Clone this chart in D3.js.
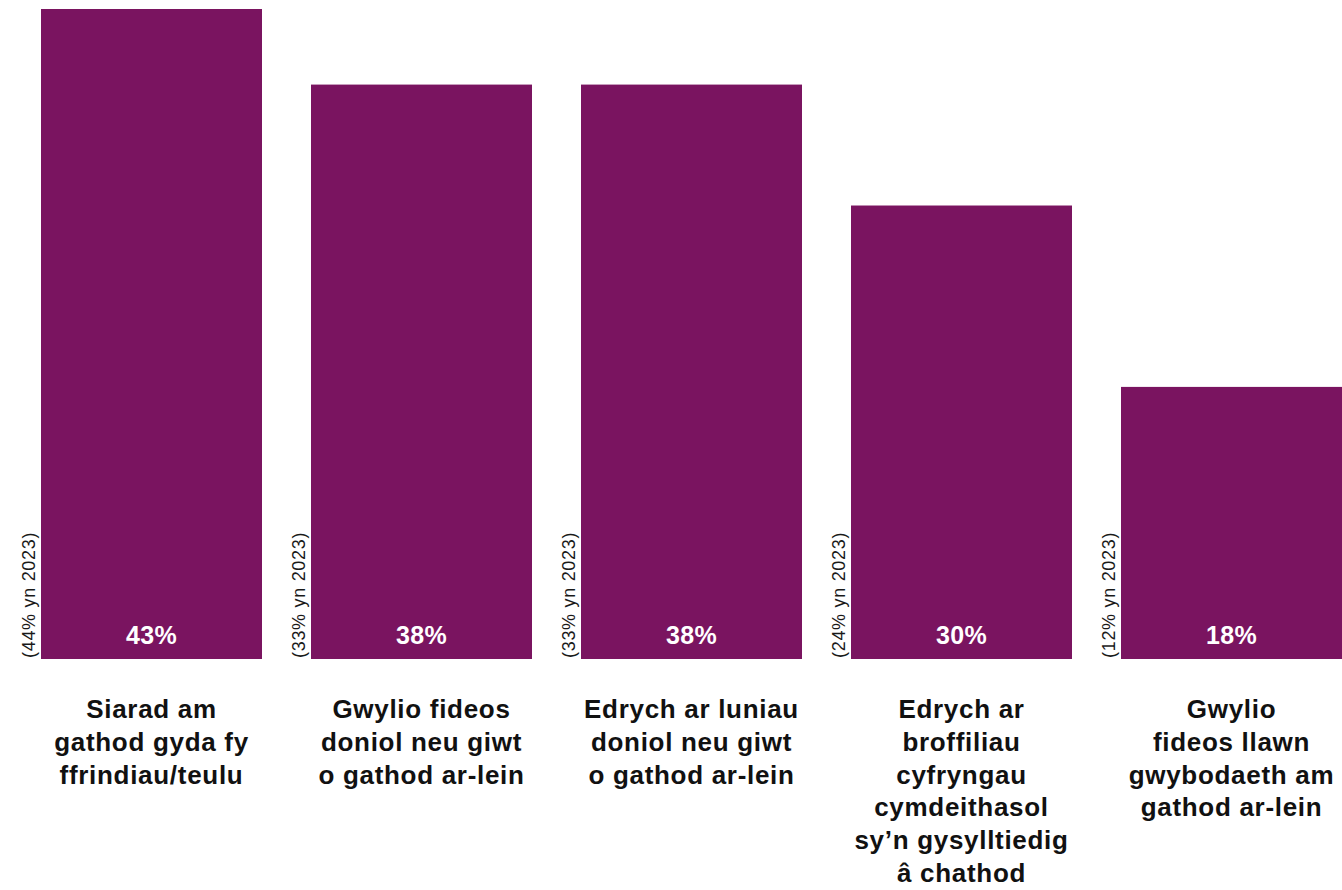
<!DOCTYPE html>
<html>
<head>
<meta charset="utf-8">
<script src="https://cdn.jsdelivr.net/npm/d3@7"></script>
<style>
  html, body { margin: 0; padding: 0; background: #ffffff; }
  svg { display: block; }
</style>
</head>
<body>
<svg id="chart" width="1342" height="890"></svg>
<script>
const categories = [
  ["Siarad am", "gathod gyda fy", "ffrindiau/teulu"],
  ["Gwylio fideos", "doniol neu giwt", "o gathod ar-lein"],
  ["Edrych ar luniau", "doniol neu giwt", "o gathod ar-lein"],
  ["Edrych ar", "broffiliau", "cyfryngau", "cymdeithasol", "sy\u2019n gysylltiedig", "\u00e2 chathod"],
  ["Gwylio", "fideos llawn", "gwybodaeth am", "gathod ar-lein"]
];
const values2024 = [43, 38, 38, 30, 18];
const values2023 = [44, 33, 33, 24, 12];
const valueLabels = ["43%", "38%", "38%", "30%", "18%"];
const prevLabels = ["(44% yn 2023)", "(33% yn 2023)", "(33% yn 2023)", "(24% yn 2023)", "(12% yn 2023)"];

const barColor = "#7a1460";
const svg = d3.select("#chart");
const ids = d3.range(categories.length);

const x = d3.scaleBand().domain(ids).range([41, 1342]).paddingInner(49 / 270).paddingOuter(0);
const y = d3.scaleLinear().domain([0, 43]).range([659, 9]);

const g = svg.append("g");

g.selectAll("rect.bar").data(ids).join("rect")
  .attr("class", "bar")
  .attr("x", i => x(i))
  .attr("y", i => y(values2024[i]))
  .attr("width", x.bandwidth())
  .attr("height", i => y(0) - y(values2024[i]))
  .attr("fill", barColor);

g.selectAll("text.val").data(ids).join("text")
  .attr("class", "val")
  .attr("x", i => x(i) + x.bandwidth() / 2)
  .attr("y", y(0) - 15.5)
  .attr("text-anchor", "middle")
  .attr("fill", "#ffffff")
  .style("font-family", "'Liberation Sans', Arial, sans-serif")
  .style("font-weight", "700")
  .style("font-size", "25px")
  .style("letter-spacing", "0.3px")
  .text(i => valueLabels[i]);

g.selectAll("text.prev").data(ids).join("text")
  .attr("class", "prev")
  .attr("transform", i => `translate(${x(i) - 6},${y(0) - 1}) rotate(-90)`)
  .attr("text-anchor", "start")
  .attr("fill", "#1a1a1a")
  .style("font-family", "'Liberation Sans', Arial, sans-serif")
  .style("font-size", "18px")
  .style("letter-spacing", "0.7px")
  .text(i => prevLabels[i]);

const cat = g.selectAll("text.cat").data(ids).join("text")
  .attr("class", "cat")
  .attr("text-anchor", "middle")
  .attr("fill", "#111111")
  .style("font-family", "'Liberation Sans', Arial, sans-serif")
  .style("font-weight", "700")
  .style("font-size", "26px")
  .style("letter-spacing", "0.7px");

cat.selectAll("tspan").data(i => categories[i].map(t => ({ t, i }))).join("tspan")
  .attr("x", d => x(d.i) + x.bandwidth() / 2)
  .attr("y", (d, k) => 718 + k * 32.8)
  .text(d => d.t);
</script>
</body>
</html>
